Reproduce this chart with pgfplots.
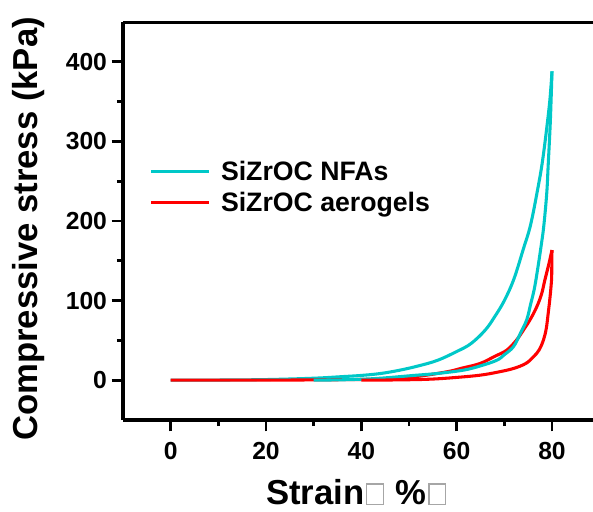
\documentclass[border=0pt]{standalone}
\usepackage{pgfplots}
\pgfplotsset{compat=1.18}
\usepackage{fontspec}
\setmainfont{Liberation Sans}
\definecolor{nfacyan}{RGB}{0,200,200}
\definecolor{aerored}{RGB}{255,0,0}
% missing-glyph boxes, as the original shows them
\newcommand\nobox{\hspace{1.5pt}{\color{gray!70}\setlength\fboxrule{0.9pt}\setlength\fboxsep{0pt}\framebox{\rule{0pt}{14.5pt}\hspace{11.5pt}}}\hspace{1.5pt}}

\begin{document}
\begin{tikzpicture}
\useasboundingbox (-92.25pt,-68.25pt) rectangle (352.5pt,315pt);
\begin{axis}[
  at={(0,0)}, anchor=south west,
  scale only axis, width=352.5pt, height=298.5pt,
  xmin=-10, xmax=88.6, ymin=-50, ymax=450,
  axis x line*=bottom, axis y line*=left,
  axis line style={line width=2.4pt, black},
  xtick={0,20,40,60,80}, ytick={0,100,200,300,400},
  minor x tick num=1, minor y tick num=1,
  tick align=outside,
  major tick length=8.5pt, minor tick length=4.5pt,
  tick style={line width=2pt, black},
  /pgf/number format/assume math mode=true,
  ticklabel style={font=\bfseries\fontsize{18.5}{22}\selectfont},
  xticklabel style={yshift=-5pt},
  xlabel={Strain\nobox\ \%\nobox},
  ylabel={Compressive stress (kPa)},
  label style={font=\bfseries\fontsize{26}{30}\selectfont},
  xlabel style={at={(axis description cs:0.496,-0.181)}, anchor=center},
  ylabel style={at={(axis description cs:-0.2,0.48)}, anchor=center, rotate=0},
  legend style={at={(axis cs:-4.4,279)}, anchor=north west, draw=none, fill=none,
    inner sep=0pt, font=\bfseries\fontsize{20}{24}\selectfont,
    row sep=3pt, cells={anchor=west},
    /tikz/every odd column/.style={column sep=6pt}},
  legend image code/.code={\draw[#1] (0pt,0pt) -- (43pt,0pt);},
  every axis plot/.append style={line width=2.3pt, smooth, tension=0.6},
]
% SiZrOC NFAs: loading
\addplot[nfacyan] coordinates {
  (0,0) (10,0.2) (20,0.8) (30,2.5) (36,4.5) (40,6) (44,8.4) (48,12.5)
  (52,18) (56,25) (60,36) (63,46) (66,63) (68,80) (70,100) (72,127)
  (74,165) (75.5,195) (77,240) (78,275) (79,322) (79.6,355) (80,388)
};
\addlegendentry{SiZrOC NFAs}
% SiZrOC aerogels: loading
\addplot[aerored] coordinates {
  (0,0) (20,0.1) (35,0.6) (44,1.5) (51,4.2) (57.9,10.5) (61,15) (64.9,21)
  (68,30) (70.5,37.7) (72.5,50) (74,62.9) (75.5,77) (76.8,92.2) (77.8,108)
  (78.5,125.8) (79.3,145) (80,163.5)
};
\addlegendentry{SiZrOC aerogels}
% unloading branches
\addplot[nfacyan, forget plot] coordinates {
  (80,388) (79.8,350) (79.6,318) (79.2,270) (78.9,235) (78.3,195) (77.8,172)
  (77,140) (76.3,115) (75.5,95) (74.7,76) (73.3,58) (71.9,42) (70,32)
  (68.4,25) (65,18) (61.4,12.6) (56,8.5) (51,6) (44,2.5) (38,0.8) (30,0)
};
\addplot[aerored, forget plot] coordinates {
  (80,163.5) (79.95,140) (79.9,125.8) (79.6,105) (79.2,83.9) (78.8,65)
  (78.2,50.3) (77.3,38) (76.1,29.3) (74.5,21) (71.9,14.7) (68.5,10)
  (64.9,6.3) (60,3.5) (54.5,1.3) (48,0.4) (40,0)
};
\draw[line width=2.4pt, black] (rel axis cs:0,1) -- (rel axis cs:1,1);
\end{axis}
\end{tikzpicture}
\end{document}
